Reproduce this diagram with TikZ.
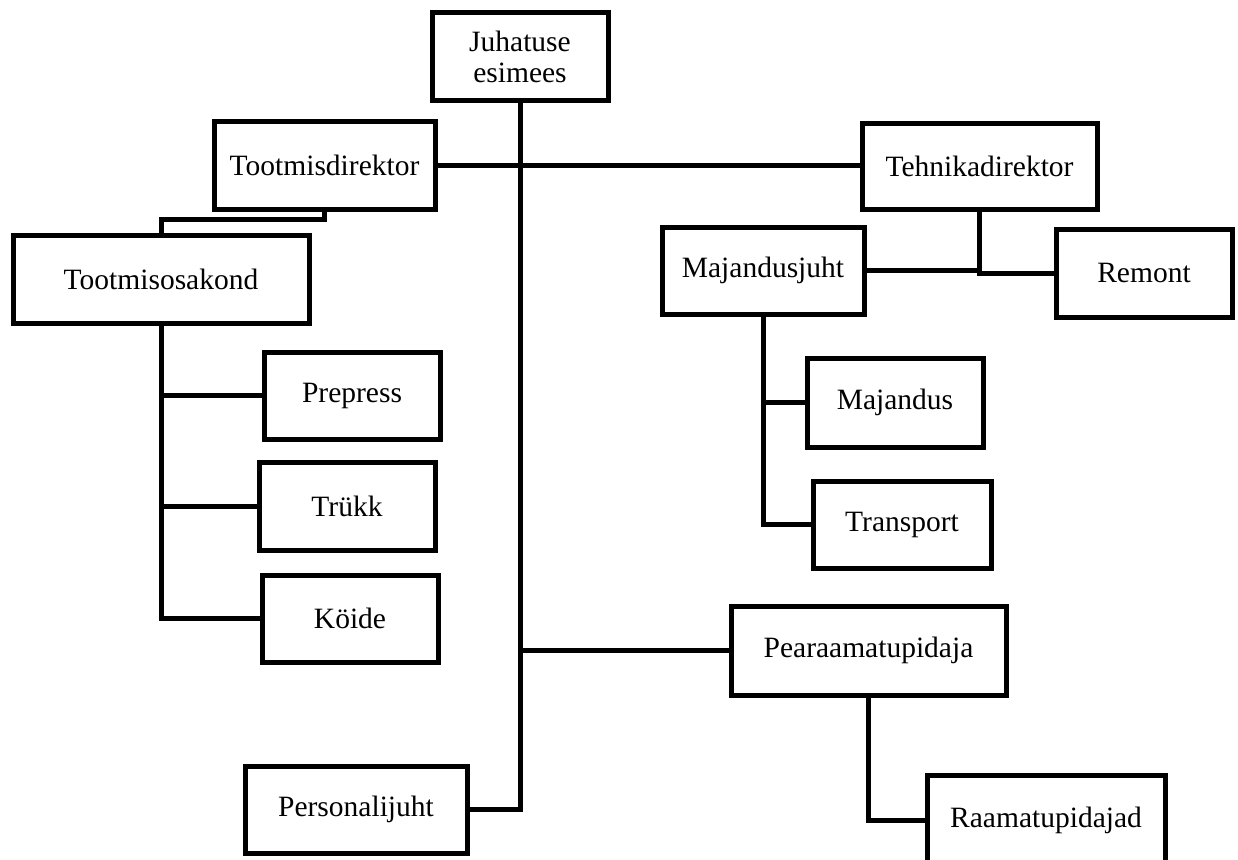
\documentclass[tikz,border=0pt]{standalone}
\usepackage{fontspec}
\setmainfont{Liberation Serif}
\tikzset{
  box/.style={draw=black, line width=5pt, fill=white, inner sep=0pt, align=center,
    font=\fontsize{29.5}{31}\selectfont},
  conn/.style={draw=black, line width=5pt}
}
\begin{document}
\begin{tikzpicture}[x=1pt,y=-1pt]
\useasboundingbox (0,0) rectangle (1238,859);
\clip (0,0) rectangle (1238,859);
% nodes
\node[box, minimum width=176pt, minimum height=87pt] (jh) at (520,56.5) {Juhatuse\\esimees};
\node[box, minimum width=221pt, minimum height=88pt] (td) at (324.5,165) {Tootmisdirektor};
\node[box, minimum width=296pt, minimum height=88pt] (to) at (161,279) {Tootmisosakond};
\node[box, minimum width=176pt, minimum height=87pt] (pp) at (352,395.5) {Prepress};
\node[box, minimum width=176pt, minimum height=88pt] (tr) at (347,506) {Trükk};
\node[box, minimum width=176pt, minimum height=87pt] (ko) at (350,618.5) {Köide};
\node[box, minimum width=235pt, minimum height=86pt] (te) at (979.5,166) {Tehnikadirektor};
\node[box, minimum width=202pt, minimum height=87pt] (mj) at (763,270.5) {Majandusjuht};
\node[box, minimum width=176pt, minimum height=88pt] (re) at (1144,273) {Remont};
\node[box, minimum width=176pt, minimum height=89pt] (ma) at (895,402.5) {Majandus};
\node[box, minimum width=178pt, minimum height=87pt] (tp) at (902,524.5) {Transport};
\node[box, minimum width=275pt, minimum height=89pt] (pe) at (868.5,650.5) {Pearaamatupidaja};
\node[box, minimum width=238pt, minimum height=90pt] (ra) at (1046,820) {Raamatupidajad};
\node[box, minimum width=222pt, minimum height=87pt] (pj) at (356,809.5) {Personalijuht};
% connectors
\draw[conn] (jh.south) |- (pj.east);
\draw[conn] (td.east) -- (te.west |- td.east);
\draw[conn] (jh.south |- pe.west) -- (pe.west);
\draw[conn] (td.south) -- ++(0,8) coordinate (tdk) -| (to.north);
\draw[conn] (to.south) |- (pp.west);
\draw[conn] (to.south) |- (tr.west);
\draw[conn] (to.south) |- (ko.west);
\draw[conn] (te.south) -- (te.south |- re.west) -- (re.west);
\draw[conn] (mj.east) -- (te.south |- mj.east);
\draw[conn] (mj.south) |- (ma.west);
\draw[conn] (mj.south) |- (tp.west);
\draw[conn] (pe.south) |- (ra.west);
\end{tikzpicture}
\end{document}
